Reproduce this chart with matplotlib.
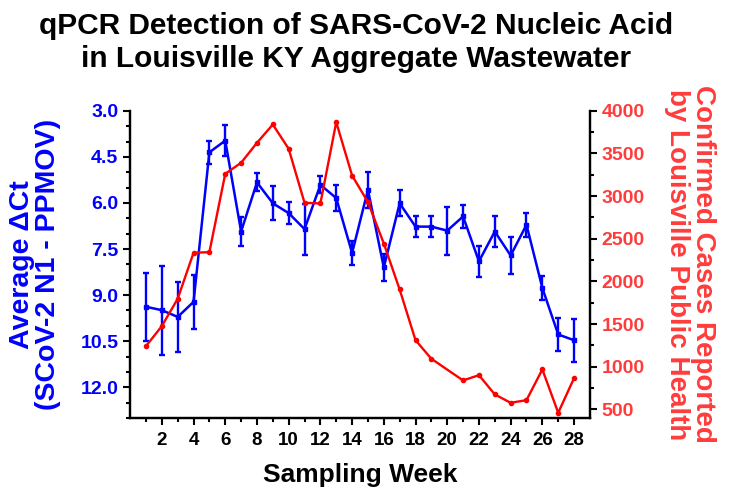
import matplotlib
matplotlib.use('Agg')
import matplotlib.pyplot as plt
import numpy as np
from matplotlib.ticker import MultipleLocator, FormatStrFormatter

plt.rcParams['font.family'] = ['Liberation Sans', 'DejaVu Sans']
plt.rcParams['font.weight'] = 'bold'

# weekly average delta Ct (wastewater) with error bars
weeks = [1, 2, 3, 4, 5, 6, 7, 8, 9, 10, 11, 12, 13, 14,
         15, 16, 17, 18, 19, 20, 21, 22, 23, 24, 25, 26, 27, 28]
delta_ct = [9.38, 9.49, 9.71, 9.22, 4.35, 3.97, 6.93, 5.33, 6.01, 6.33, 6.85, 5.41, 5.84, 7.63,
            5.57, 8.10, 6.01, 6.77, 6.77, 6.90, 6.44, 7.90, 6.93, 7.71, 6.71, 8.77, 10.28, 10.47]
delta_err = [1.10, 1.45, 1.14, 0.88, 0.38, 0.50, 0.48, 0.29, 0.55, 0.35, 0.83, 0.28, 0.43, 0.40,
             0.58, 0.45, 0.43, 0.33, 0.33, 0.78, 0.37, 0.50, 0.50, 0.60, 0.39, 0.39, 0.55, 0.70]

# confirmed cases (no value reported for week 20)
case_weeks = [1, 2, 3, 4, 5, 6, 7, 8, 9, 10, 11, 12, 13, 14,
              15, 16, 17, 18, 19, 21, 22, 23, 24, 25, 26, 27, 28]
cases = [1242, 1477, 1797, 2336, 2344, 3262, 3391, 3625, 3840, 3555, 2922, 2914, 3867, 3242,
         2930, 2445, 1906, 1312, 1094, 840, 902, 676, 578, 609, 969, 461, 867]

blue = '#0000ff'
red = '#ff0000'
red_text = '#ff3c3c'

fig = plt.figure(figsize=(7.31, 4.97), dpi=100)
ax = fig.add_axes([0.178, 0.159, 0.629, 0.618])
ax2 = ax.twinx()

ax.errorbar(weeks, delta_ct, yerr=delta_err, color=blue, lw=1.8, marker='s', ms=3,
            elinewidth=1.7, capsize=2.5, capthick=1.7, zorder=3)
ax2.plot(case_weeks, cases, color=red, lw=1.7, marker='o', ms=3)

# left axis (inverted)
ax.set_ylim(13, 3)
ax.set_yticks(np.arange(3, 12.1, 1.5))
ax.yaxis.set_major_formatter(FormatStrFormatter('%.1f'))
ax.yaxis.set_minor_locator(MultipleLocator(0.5))
ax.set_ylabel('Average \u0394Ct\n(SCoV-2 N1 - PPMOV)', color=blue, fontsize=20.5,
              fontweight='bold', linespacing=1.0, labelpad=14)

# right axis
ax2.set_ylim(400, 4000)
ax2.set_yticks(np.arange(500, 4001, 500))
ax2.yaxis.set_minor_locator(MultipleLocator(250))
ax2.set_ylabel('Confirmed Cases Reported\nby Louisville Public Health', color=red_text,
               fontsize=20, fontweight='bold', rotation=270, linespacing=1.0, labelpad=51)

# x axis
ax.set_xlim(0, 29)
ax.set_xticks(np.arange(2, 29, 2))
ax.set_xticks(np.arange(1, 28, 2), minor=True)
ax.set_xlabel('Sampling Week', fontsize=19, fontweight='bold', labelpad=10)

for a in (ax, ax2):
    a.spines['top'].set_visible(False)
    for s in a.spines.values():
        s.set_linewidth(1.6)
    a.tick_params(which='major', length=5, width=1.5, direction='out', labelsize=14)
    a.tick_params(which='minor', length=3, width=1.5, direction='out')
ax.tick_params(axis='y', labelcolor=blue)
ax.tick_params(axis='x', labelsize=13.5, pad=5)
ax2.tick_params(axis='y', labelcolor=red_text)

fig.suptitle('qPCR Detection of SARS-CoV-2 Nucleic Acid\nin Louisville KY Aggregate Wastewater',
             x=0.487, y=0.975, fontsize=21.5, fontweight='bold', linespacing=1.2)

fig.savefig('out.png', dpi=100)
